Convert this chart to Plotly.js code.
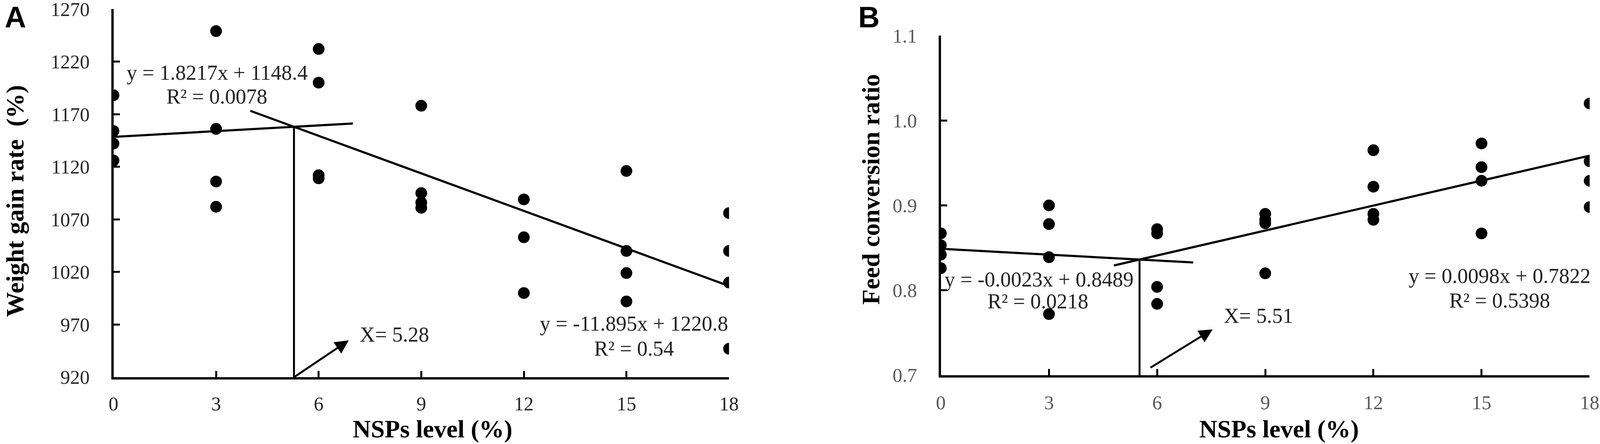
<!DOCTYPE html>
<html>
<head>
<meta charset="utf-8">
<script src="https://cdn.plot.ly/plotly-3.0.1.min.js"></script>
<style>
  html, body { margin: 0; padding: 0; background: #fff; overflow: hidden; }
  #chart { width: 100vw; height: 100vh; }
</style>
</head>
<body>
<div id="chart"></div>
<script>
// NSPs level groups (x) and per-fish values
const wgrX = [0, 0, 0, 0, 3, 3, 3, 3, 6, 6, 6, 6, 9, 9, 9, 9, 12, 12, 12, 15, 15, 15, 15, 18, 18, 18, 18];
const wgrY = [1188, 1154, 1142, 1126, 1249, 1156, 1106, 1082, 1232, 1200, 1112, 1109,
              1178, 1095, 1086, 1081, 1089, 1053, 1000, 1116, 1040, 1019, 992, 1076, 1040, 1010, 947];

const fcrX = [0, 0, 0, 0, 3, 3, 3, 3, 6, 6, 6, 6, 9, 9, 9, 9, 12, 12, 12, 12, 15, 15, 15, 15, 18, 18, 18, 18];
const fcrY = [0.867, 0.853, 0.842, 0.826, 0.900, 0.878, 0.839, 0.772, 0.872, 0.867, 0.804, 0.784,
              0.890, 0.883, 0.879, 0.820, 0.965, 0.922, 0.890, 0.883, 0.973, 0.945, 0.929, 0.867,
              1.020, 0.952, 0.929, 0.898];

// broken-line regression: two segments per panel
const wgrSlope = [1.8217, -11.895];
const wgrIntercept = [1148.4, 1220.8];
const wgrFrom = [0, 4];
const wgrTo = [7, 18];
const wgrR2 = ['0.0078', '0.54'];

const fcrSlope = [-0.0023, 0.0098];
const fcrIntercept = [0.8489, 0.7822];
const fcrFrom = [0, 4.8];
const fcrTo = [7, 18];
const fcrR2 = ['0.0218', '0.5398'];

// arrow tail / head pointing at the breakpoint label
const wgrArrow = [[5.28, 920], [6.88, 955]];
const fcrArrow = [[5.80, 0.7085], [7.54, 0.754]];

const xTicks = [0, 3, 6, 9, 12, 15, 18];
const wgrTicks = [920, 970, 1020, 1070, 1120, 1170, 1220, 1270];
const fcrTicks = [0.7, 0.8, 0.9, 1.0, 1.1];

const serif = 'Liberation Serif, Times New Roman, serif';

const W = window.innerWidth, H = window.innerHeight;
const s = H / 1136;

function lineAt(m, b, x) { return m * x + b; }

function eqText(m, b) {
    const sign = b >= 0 ? '+' : '-';
    return 'y = ' + m + 'x ' + sign + ' ' + Math.abs(b);
}

function fitTraces(slope, intercept, from, to, xa, ya) {
    return slope.map((m, i) => ({
        x: [from[i], to[i]],
        y: [lineAt(m, intercept[i], from[i]), lineAt(m, intercept[i], to[i])],
        xaxis: xa, yaxis: ya,
        mode: 'lines', type: 'scatter',
        line: { color: '#000', width: 5.5 * s },
        hoverinfo: 'skip'
    }));
}

function breakTrace(slope, intercept, yMin, xa, ya) {
    const xb = (intercept[1] - intercept[0]) / (slope[0] - slope[1]);
    return {
        x: [xb, xb],
        y: [yMin, lineAt(slope[0], intercept[0], xb)],
        xaxis: xa, yaxis: ya,
        mode: 'lines', type: 'scatter',
        line: { color: '#000', width: 5 * s },
        hoverinfo: 'skip'
    };
}

const pointStyle = { color: '#000', size: 30 * s, symbol: 'circle' };

const data = [
    { x: wgrX, y: wgrY, mode: 'markers', type: 'scatter', marker: pointStyle, xaxis: 'x', yaxis: 'y' },
    ...fitTraces(wgrSlope, wgrIntercept, wgrFrom, wgrTo, 'x', 'y'),
    breakTrace(wgrSlope, wgrIntercept, 920, 'x', 'y'),
    { x: fcrX, y: fcrY, mode: 'markers', type: 'scatter', marker: pointStyle, xaxis: 'x2', yaxis: 'y2' },
    ...fitTraces(fcrSlope, fcrIntercept, fcrFrom, fcrTo, 'x2', 'y2'),
    breakTrace(fcrSlope, fcrIntercept, 0.7, 'x2', 'y2')
];

function note(text, x, y, xref, yref, size, extra) {
    return Object.assign({
        text: text, x: x, y: y, xref: xref, yref: yref,
        showarrow: false, xanchor: 'center', yanchor: 'middle',
        font: { family: serif, size: size * s, color: '#222' }
    }, extra || {});
}

function arrow(pts, xref, yref) {
    return {
        text: '', x: pts[1][0], y: pts[1][1], ax: pts[0][0], ay: pts[0][1],
        xref: xref, yref: yref, axref: xref, ayref: yref,
        showarrow: true, arrowhead: 2, arrowsize: 1.4, arrowwidth: 5 * s, arrowcolor: '#000'
    };
}

const letterFont = { family: 'Liberation Sans, Arial, sans-serif', size: 76 * s, color: '#000' };
const titleFont = { family: serif, size: 64 * s, color: '#000' };

const annotations = [
    note('<b>A</b>', 0.0097, 0.962, 'paper', 'paper', 76, { font: letterFont }),
    note('<b>B</b>', 0.543, 0.962, 'paper', 'paper', 76, { font: letterFont }),

    // axis titles placed where the figure has them
    note('<b>Weight gain rate  (%)</b>', 0.0093, 0.5475, 'paper', 'paper', 64,
         { textangle: -90, font: titleFont }),
    note('<b>Feed conversion ratio</b>', 0.5443, 0.5739, 'paper', 'paper', 64,
         { textangle: -90, font: titleFont }),
    note('<b>NSPs level (%)</b>', 0.2703, 0.0343, 'paper', 'paper', 64, { font: titleFont }),
    note('<b>NSPs level (%)</b>', 0.7994, 0.0343, 'paper', 'paper', 64, { font: titleFont }),

    note(eqText(wgrSlope[0], wgrIntercept[0]), 3.03, 1209.6, 'x', 'y', 54),
    note('R² = ' + wgrR2[0], 3.02, 1186.8, 'x', 'y', 54),
    note(eqText(wgrSlope[1], wgrIntercept[1]), 15.22, 970.9, 'x', 'y', 54),
    note('R² = ' + wgrR2[1], 15.22, 947.1, 'x', 'y', 54),
    note('X= 5.28', 7.18, 960.5, 'x', 'y', 54, { xanchor: 'left' }),
    arrow(wgrArrow, 'x', 'y'),

    note(eqText(fcrSlope[0], fcrIntercept[0]), 2.72, 0.8127, 'x2', 'y2', 54),
    note('R² = ' + fcrR2[0], 2.69, 0.7869, 'x2', 'y2', 54),
    note(eqText(fcrSlope[1], fcrIntercept[1]), 15.50, 0.8171, 'x2', 'y2', 54),
    note('R² = ' + fcrR2[1], 15.50, 0.7877, 'x2', 'y2', 54),
    note('X= 5.51', 7.83, 0.770, 'x2', 'y2', 54, { xanchor: 'left' }),
    arrow(fcrArrow, 'x2', 'y2')
];

function xAxis(domain, anchor, color, standoff) {
    return {
        domain: domain, anchor: anchor, range: [0, 18],
        tickmode: 'array', tickvals: xTicks,
        showline: true, linecolor: '#000', linewidth: 6 * s,
        ticks: 'inside', ticklen: 16 * s, tickwidth: 5 * s, tickcolor: '#000',
        showgrid: false, zeroline: false, automargin: false,
        ticklabelstandoff: standoff * s, ticklabeloverflow: 'allow',
        tickfont: { family: serif, size: 50 * s, color: color }
    };
}

function yAxis(domain, anchor, range, ticks, fmt, color) {
    return {
        domain: domain, anchor: anchor, range: range,
        tickmode: 'array', tickvals: ticks, tickformat: fmt,
        showline: true, linecolor: '#000', linewidth: 6 * s,
        ticks: 'inside', ticklen: 16 * s, tickwidth: 5 * s, tickcolor: '#000',
        showgrid: false, zeroline: false, automargin: false,
        ticklabelstandoff: 45 * s, ticklabeloverflow: 'allow',
        tickfont: { family: serif, size: 50 * s, color: color }
    };
}

const layout = {
    width: W, height: H,
    margin: { l: 0, r: 0, t: 0, b: 0 },
    paper_bgcolor: '#fff', plot_bgcolor: '#fff',
    showlegend: false,
    xaxis: xAxis([0.07093, 0.45564], 'y', '#262626', 19),
    yaxis: yAxis([0.15053, 0.97975], 'x', [920, 1270], wgrTicks, 'd', '#262626'),
    xaxis2: xAxis([0.58803, 0.99353], 'y2', '#595959', 21),
    yaxis2: yAxis([0.15493, 0.91989], 'x2', [0.7, 1.1], fcrTicks, '.1f', '#595959'),
    annotations: annotations
};

Plotly.newPlot('chart', data, layout, { displayModeBar: false, staticPlot: true });
</script>
</body>
</html>
